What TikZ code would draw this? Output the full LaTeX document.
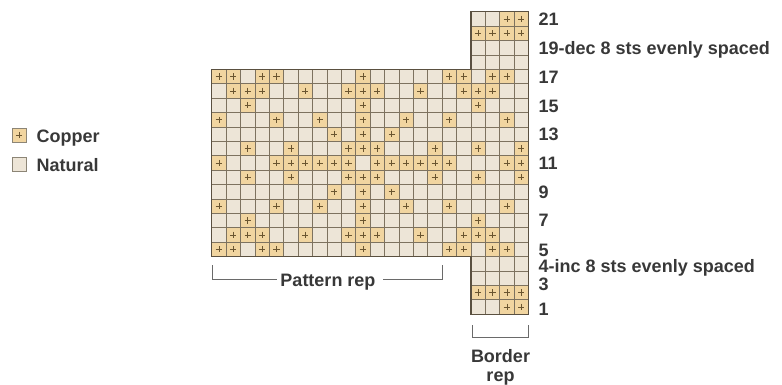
\documentclass[tikz,border=0pt]{standalone}
\usepackage{fontspec}
\setmainfont{Liberation Sans}
\definecolor{natural}{HTML}{EDE5D7}
\definecolor{copper}{HTML}{F1D5A0}
\definecolor{gridline}{HTML}{7D725F}
\definecolor{outline}{HTML}{5A5040}
\definecolor{plusc}{HTML}{6A5530}
\definecolor{txt}{HTML}{383838}
\definecolor{brk}{HTML}{6A6A6A}
\definecolor{legbox}{HTML}{8C8576}
\begin{document}
\begin{tikzpicture}[x=1pt,y=-1pt,
  lbl/.style={anchor=base west, inner sep=0pt, text=txt, font=\fontsize{18}{20}\selectfont\bfseries},
  ctrlbl/.style={anchor=base, inner sep=0pt, text=txt, font=\fontsize{18}{20}\selectfont\bfseries},
  gl/.style={draw=gridline, line width=0.6pt},
  outl/.style={draw=outline, line width=1.2pt, line join=miter},
  plusmark/.style={draw=plusc, line width=0.6pt},
  brack/.style={draw=brk, line width=0.8pt},
  legcell/.style={draw=legbox, line width=0.8pt}]
\useasboundingbox (0,0) rectangle (782,384);

% ---------------- chart ----------------
\begin{scope}[shift={(211.7pt,-11.7pt)}, x=14.4pt, y=-14.4pt]
  \fill[natural] (0,4) rectangle (22,17);
  \fill[natural] (18,0) rectangle (22,21);
  \foreach \r/\cl in {21/{21,22}, 20/{19,20,21,22},
      17/{1,2,4,5,11,17,18,20,21},
      16/{2,3,4,7,10,11,12,15,18,19,20},
      15/{3,11,19},
      14/{1,5,8,11,14,17,21},
      13/{9,11,13},
      12/{3,6,10,11,12,16,19,22},
      11/{1,5,6,7,8,9,10,12,13,14,15,16,17,21,22},
      10/{3,6,10,11,12,16,19,22},
      9/{9,11,13},
      8/{1,5,8,11,14,17,21},
      7/{3,11,19},
      6/{2,3,4,7,10,11,12,15,18,19,20},
      5/{1,2,4,5,11,17,18,20,21},
      2/{19,20,21,22}, 1/{21,22}}{
    \foreach \c in \cl {
      \fill[copper] (\c-1,21-\r) rectangle (\c,22-\r);
    }
  }
  \foreach \i in {0,...,17} \draw[gl] (\i,4) -- (\i,17);
  \foreach \i in {18,...,22} \draw[gl] (\i,0) -- (\i,21);
  \foreach \j in {4,...,17} \draw[gl] (0,\j) -- (18,\j);
  \foreach \j in {0,...,21} \draw[gl] (18,\j) -- (22,\j);
  \foreach \r/\cl in {21/{21,22}, 20/{19,20,21,22},
      17/{1,2,4,5,11,17,18,20,21},
      16/{2,3,4,7,10,11,12,15,18,19,20},
      15/{3,11,19},
      14/{1,5,8,11,14,17,21},
      13/{9,11,13},
      12/{3,6,10,11,12,16,19,22},
      11/{1,5,6,7,8,9,10,12,13,14,15,16,17,21,22},
      10/{3,6,10,11,12,16,19,22},
      9/{9,11,13},
      8/{1,5,8,11,14,17,21},
      7/{3,11,19},
      6/{2,3,4,7,10,11,12,15,18,19,20},
      5/{1,2,4,5,11,17,18,20,21},
      2/{19,20,21,22}, 1/{21,22}}{
    \foreach \c in \cl {
      \draw[plusmark] (\c-0.72,21.5-\r) -- (\c-0.28,21.5-\r)
                      (\c-0.5,21.28-\r) -- (\c-0.5,21.72-\r);
    }
  }
  \draw[outl] (0,4) -- (18,4) -- (18,0) -- (22,0) -- (22,21) -- (18,21)
              -- (18,17) -- (0,17) -- cycle;
\end{scope}

% ---------------- row labels ----------------
\node[lbl] (l21) at (538.5,25.5) {21};
\node[lbl] (l19) at (538.5,54.5) {19-dec 8 sts evenly spaced};
\node[lbl] (l17) at (538.5,83.5) {17};
\node[lbl] (l15) at (538.5,112) {15};
\node[lbl] (l13) at (538.5,140.5) {13};
\node[lbl] (l11) at (538.5,169.5) {11};
\node[lbl] (l9) at (538.5,198) {9};
\node[lbl] (l7) at (538.5,226.5) {7};
\node[lbl] (l5) at (538.5,256) {5};
\node[lbl] (l4) at (538.5,272.3) {4-inc 8 sts evenly spaced};
\node[lbl] (l3) at (538.5,290.5) {3};
\node[lbl] (l1) at (538.5,315.5) {1};

% ---------------- legend ----------------
\fill[copper] (12,128) rectangle (26,142);
\draw[legcell] (12,128) rectangle (26,142);
\draw[plusmark] (15.8,135) -- (22.2,135) (19,131.8) -- (19,138.2);
\node[lbl] (lcopper) at (36.5,142.3) {Copper};
\fill[natural] (12,157) rectangle (26,171);
\draw[legcell] (12,157) rectangle (26,171);
\node[lbl] (lnatural) at (36.5,171.5) {Natural};

% ---------------- brackets ----------------
\node[ctrlbl] (patrep) at (328,286) {Pattern rep};
\coordinate (pa) at (212.5,265);
\coordinate (pb) at (212.5,279.5);
\coordinate (pc) at (277,279.5);
\coordinate (pd) at (383,279.5);
\coordinate (pe) at (442.5,279.5);
\coordinate (pf) at (442.5,265);
\draw[brack] (pa) -- (pb) -- (pc);
\draw[brack] (pd) -- (pe) -- (pf);

\coordinate (ba) at (472,325);
\coordinate (bb) at (472,337);
\coordinate (bc) at (528.5,337);
\coordinate (bd) at (528.5,325);
\draw[brack] (ba) -- (bb) -- (bc) -- (bd);
\node[ctrlbl] (borderA) at (500.5,362) {Border};
\node[ctrlbl] (borderB) at (500.5,381) {rep};
\end{tikzpicture}
\end{document}
